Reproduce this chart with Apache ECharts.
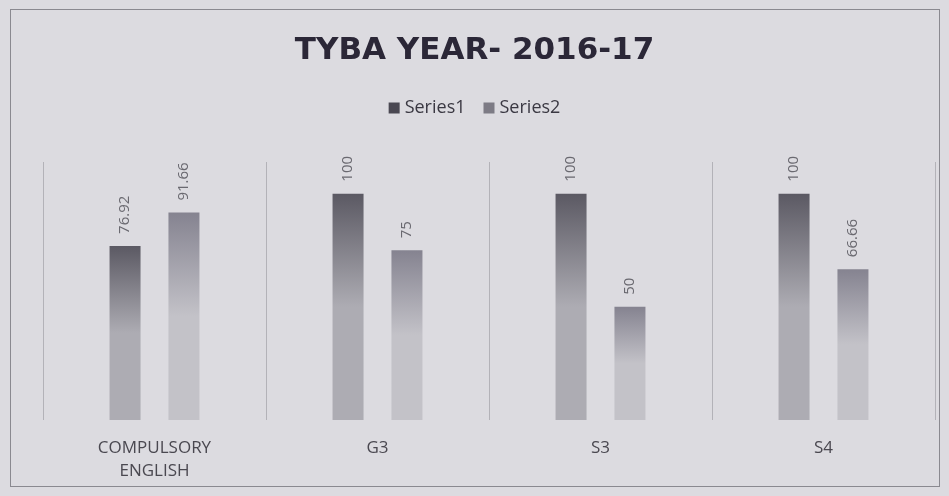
<!DOCTYPE html>
<html>
<head>
<meta charset="utf-8">
<title>TYBA YEAR- 2016-17</title>
<script src="https://cdn.jsdelivr.net/npm/echarts@6/dist/echarts.min.js"></script>
<style>
html, body {
  margin: 0;
  padding: 0;
  background: #dcdbe0;
}
.frame {
  position: absolute;
  left: 10px;
  top: 9px;
  width: 930px;
  height: 478px;
  border: 1px solid #8a8990;
  box-sizing: border-box;
}
#chart {
  position: absolute;
  left: 0;
  top: 0;
  width: 949px;
  height: 496px;
}
</style>
</head>
<body>
<div class="frame"></div>
<div id="chart"></div>
<script>
// chart data
const categories = ['COMPULSORY\nENGLISH', 'G3', 'S3', 'S4']
const series1 = [76.92, 100, 100, 100]
const series2 = [91.66, 75, 50, 66.66]

const chart = echarts.init(document.getElementById('chart'))

function fade(top, bottom) {
  return new echarts.graphic.LinearGradient(0, 0, 0, 1, [
    { offset: 0, color: top },
    { offset: 0.5, color: bottom },
    { offset: 1, color: bottom }
  ])
}

const barLabel = {
  show: true,
  position: 'top',
  rotate: 90,
  align: 'left',
  verticalAlign: 'middle',
  distance: 12,
  color: '#6a6970',
  fontSize: 15,
  fontFamily: 'Open Sans'
}

chart.setOption({
  backgroundColor: 'transparent',
  animation: false,
  title: {
    text: 'TYBA YEAR- 2016-17',
    left: 'center',
    top: 30,
    textStyle: {
      fontFamily: 'DejaVu Sans',
      fontWeight: 'bold',
      fontSize: 31,
      color: '#2b2737'
    }
  },
  legend: {
    data: [
      { name: 'Series1', itemStyle: { color: '#4a4852' } },
      { name: 'Series2', itemStyle: { color: '#7d7b85' } }
    ],
    top: 94,
    left: 'center',
    icon: 'rect',
    itemWidth: 11,
    itemHeight: 11,
    itemGap: 18,
    textStyle: {
      fontFamily: 'Open Sans',
      fontSize: 18,
      color: '#3a3842'
    }
  },
  grid: {
    left: 43,
    right: 14,
    top: 162,
    bottom: 76
  },
  xAxis: {
    type: 'category',
    data: categories,
    axisLine: { show: false },
    axisTick: { show: false },
    splitLine: {
      show: true,
      lineStyle: { color: '#b3b2b8', width: 1 }
    },
    axisLabel: {
      margin: 17,
      fontFamily: 'Open Sans',
      fontSize: 17,
      lineHeight: 23,
      color: '#4a4850'
    }
  },
  yAxis: {
    type: 'value',
    min: 0,
    max: 114,
    show: false,
    splitLine: { show: false }
  },
  series: [{
    name: 'Series1',
    type: 'bar',
    data: series1,
    barWidth: 31,
    barGap: '90%',
    itemStyle: { color: fade('#5b5963', '#adacb3') },
    label: barLabel
  },
  {
    name: 'Series2',
    type: 'bar',
    data: series2,
    barWidth: 31,
    itemStyle: { color: fade('#858390', '#c3c2c8') },
    label: barLabel
  }]
})
</script>
</body>
</html>
